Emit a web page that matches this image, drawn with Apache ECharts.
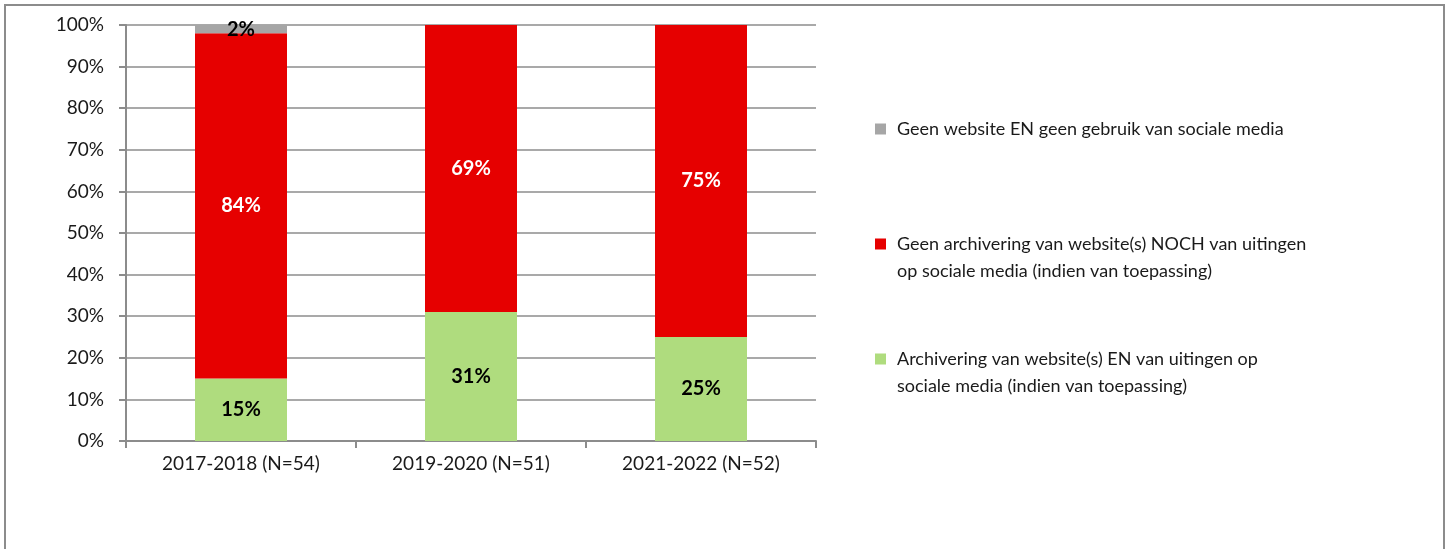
<!DOCTYPE html>
<html>
<head>
<meta charset="utf-8">
<script src="https://cdn.jsdelivr.net/npm/echarts@6/dist/echarts.min.js"></script>
<style>
html, body { margin: 0; padding: 0; background: #fff; }
#chart { width: 1451px; height: 549px; }
</style>
</head>
<body>
<div id="chart"></div>
<script>
// categorieën en waarden
var periodes = ['2017-2018 (N=54)', '2019-2020 (N=51)', '2021-2022 (N=52)'];
var wel = [15, 31, 25];          // Archivering van website(s) EN sociale media
var geen = [83, 69, 75];         // Geen archivering
var geenWebsite = [2, 0, 0];     // Geen website EN geen sociale media
var welLabels = ['15%', '31%', '25%'];
var geenLabels = ['84%', '69%', '75%'];
var geenWebsiteLabels = ['2%', '', ''];
var yTicks = [0, 10, 20, 30, 40, 50, 60, 70, 80, 90, 100];

var namen = [
  'Geen website EN geen gebruik van sociale media',
  'Geen archivering van website(s) NOCH van uitingen\nop sociale media (indien van toepassing)',
  'Archivering van website(s) EN van uitingen op\nsociale media (indien van toepassing)'
];
var kleuren = ['#a6a6a6', '#e60000', '#afdc7e'];
var font = 'Lato';

var myChart = echarts.init(document.getElementById('chart'));

/* legenda: bij twee regels staat het blokje op de eerste regel */
function legenda(naam, top, tweeRegels) {
  return {
    data: [naam],
    orient: 'vertical',
    left: 870,
    top: top,
    itemWidth: 11,
    itemHeight: tweeRegels ? 38 : 11,
    icon: tweeRegels ? 'path://M0,0L11,0L11,11L0,11Z M0,38L0.01,38L0,38Z' : 'rect',
    selectedMode: false,
    textStyle: { fontFamily: font, fontSize: 18, color: '#1a1a1a', lineHeight: 27, padding: [0, 0, 0, 6] }
  };
}

var option = {
  animation: false,
  graphic: [{
    type: 'rect',
    shape: { x: 5, y: 5, width: 1439, height: 600 },
    style: { fill: 'none', stroke: '#8c8c8c', lineWidth: 2 },
    z: -1
  }],
  legend: [
    legenda(namen[0], 110.5, false),
    legenda(namen[1], 225.5, true),
    legenda(namen[2], 340.5, true)
  ],
  grid: { left: 126, top: 25, width: 690, height: 416, containLabel: false },
  xAxis: {
    type: 'category',
    data: periodes,
    axisLine: { lineStyle: { color: '#8c8c8c', width: 2 } },
    axisTick: { show: true, length: 7, lineStyle: { color: '#8c8c8c', width: 2 } },
    axisLabel: { fontFamily: font, fontSize: 19, color: '#1a1a1a', margin: 13 }
  },
  yAxis: {
    type: 'value',
    min: 0,
    max: 100,
    interval: 10,
    axisLine: { show: true, lineStyle: { color: '#8c8c8c', width: 2 } },
    axisTick: { show: true, length: 7, lineStyle: { color: '#8c8c8c', width: 2 } },
    splitLine: { lineStyle: { color: '#8c8c8c', width: 1.5 } },
    axisLabel: {
      fontFamily: font, fontSize: 19, color: '#1a1a1a', margin: 22,
      formatter: function (v) { return yTicks.indexOf(v) >= 0 ? v + '%' : ''; }
    }
  },
  series: [
    {
      name: namen[2], type: 'bar', stack: 'tot', barWidth: '40%',
      itemStyle: { color: kleuren[2] },
      label: { show: true, position: 'inside', fontFamily: font, fontSize: 20, fontWeight: 'bold', color: '#000',
        formatter: function (p) { return welLabels[p.dataIndex]; } },
      data: wel
    },
    {
      name: namen[1], type: 'bar', stack: 'tot',
      itemStyle: { color: kleuren[1] },
      label: { show: true, position: 'inside', fontFamily: font, fontSize: 20, fontWeight: 'bold', color: '#fff',
        formatter: function (p) { return geenLabels[p.dataIndex]; } },
      data: geen
    },
    {
      name: namen[0], type: 'bar', stack: 'tot',
      itemStyle: { color: kleuren[0] },
      label: { show: true, position: 'inside', fontFamily: font, fontSize: 20, fontWeight: 'bold', color: '#000',
        formatter: function (p) { return geenWebsiteLabels[p.dataIndex]; } },
      data: geenWebsite
    }
  ]
};
myChart.setOption(option);
</script>
</body>
</html>
